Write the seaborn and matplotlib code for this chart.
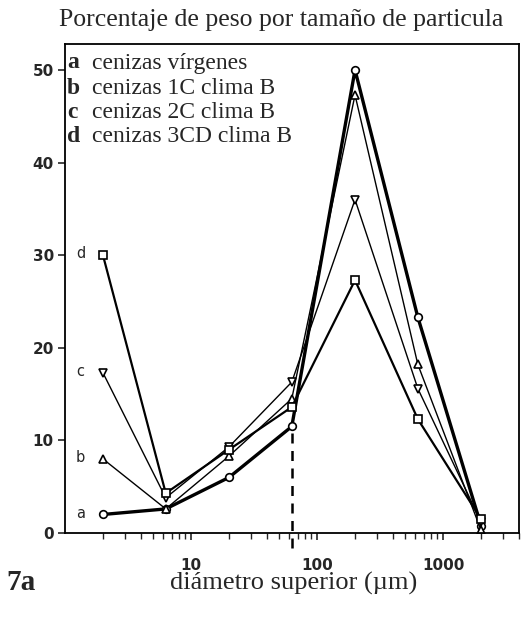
import numpy as np
import pandas as pd
import matplotlib
matplotlib.use("Agg")
import matplotlib.pyplot as plt
import matplotlib.ticker as mticker
import seaborn as sns

# ---- data ----
diametros = [2, 6.3, 20, 63, 200, 630, 2000]
serie_a = [2.0, 2.6, 6.0, 11.5, 50.0, 23.3, 0.8]
serie_b = [8.0, 2.6, 8.3, 14.5, 47.3, 18.2, 0.3]
serie_c = [17.3, 3.8, 9.3, 16.3, 36.0, 15.6, 1.2]
serie_d = [30.0, 4.3, 9.0, 13.6, 27.3, 12.3, 1.5]
claves = ["a", "b", "c", "d"]
leyenda = ["cenizas vírgenes", "cenizas 1C clima B",
           "cenizas 2C clima B", "cenizas 3CD clima B"]
y_ticks = [0, 10, 20, 30, 40, 50]
x_ticks = [10, 100, 1000]
corte = 63

df = pd.DataFrame({
    "x": diametros * 4,
    "y": serie_a + serie_b + serie_c + serie_d,
    "serie": sum([[k] * len(diametros) for k in claves], []),
})

sns.set_style("ticks")
plt.rcParams["font.family"] = ["DejaVu Sans"]

W, H = 526, 617
fig = plt.figure(figsize=(W / 100, H / 100), dpi=100)
ax = fig.add_axes([65 / W, 84 / H, (519 - 65) / W, (533 - 44) / H])

sns.lineplot(data=df, x="x", y="y", hue="serie", style="serie", size="serie",
             palette={k: "black" for k in claves},
             markers={"a": "o", "b": "^", "c": "v", "d": "s"},
             dashes=False,
             sizes={"a": 2.4, "b": 1.0, "c": 1.0, "d": 1.6},
             estimator=None, legend=False, ax=ax,
             markersize=5.5, mfc="white", mec="black", mew=1.2)

ax.set_xscale("log")
ax.set_xlim(1, 4000)
ax.set_ylim(0, 52.8)

# dashed marker line at 63 um
ax.plot([corte, corte], [-1.6, serie_a[3]], color="black", lw=1.8,
        ls=(0, (4, 3)), clip_on=False, zorder=1)

ax.set_xticks(x_ticks)
ax.xaxis.set_major_formatter(mticker.FuncFormatter(lambda v, p: f"{int(v)}"))
ax.xaxis.set_minor_locator(mticker.LogLocator(base=10, subs=np.arange(2, 10)))
ax.xaxis.set_minor_formatter(mticker.NullFormatter())
ax.set_yticks(y_ticks)
ax.tick_params(axis="x", which="major", direction="out", length=5, width=1.2,
               pad=13, labelsize=11)
ax.tick_params(axis="x", which="minor", direction="out", length=4, width=1.0)
ax.tick_params(axis="y", direction="out", length=5, width=1.2, pad=3, labelsize=11)
for lab in ax.get_xticklabels() + ax.get_yticklabels():
    lab.set_fontweight("bold")
for s in ax.spines.values():
    s.set_visible(True)
    s.set_linewidth(1.3)
    s.set_color("black")
ax.set_xlabel("")
ax.set_ylabel("")

# point labels at the first point of each series
primeros = [serie_a[0], serie_b[0], serie_c[0], serie_d[0]]
for k, y0 in zip(claves, primeros):
    ax.annotate(k, (diametros[0], y0), xytext=(-16, 1), textcoords="offset points",
                ha="center", va="center", fontsize=10.5)

serif = ["Liberation Serif", "DejaVu Serif"]
fig.text(281 / W, 1 - 20 / H, "Porcentaje de peso por tamaño de particula",
         ha="center", va="center", family=serif, fontsize=18.5)
ys = [63, 88, 112, 137]
for k, t, yp in zip(claves, leyenda, ys):
    fig.text(67 / W, 1 - yp / H, k, ha="left", va="center", family=serif,
             fontsize=17, fontweight="bold")
    fig.text(92 / W, 1 - yp / H, t, ha="left", va="center", family=serif,
             fontsize=17)
fig.text(294 / W, 1 - 583 / H, "diámetro superior (µm)", ha="center", va="center",
         family=serif, fontsize=19)
fig.text(6 / W, 1 - 583 / H, "7a", ha="left", va="center", family=serif,
         fontsize=21, fontweight="bold")

fig.savefig("out.png", dpi=100, facecolor="white")
